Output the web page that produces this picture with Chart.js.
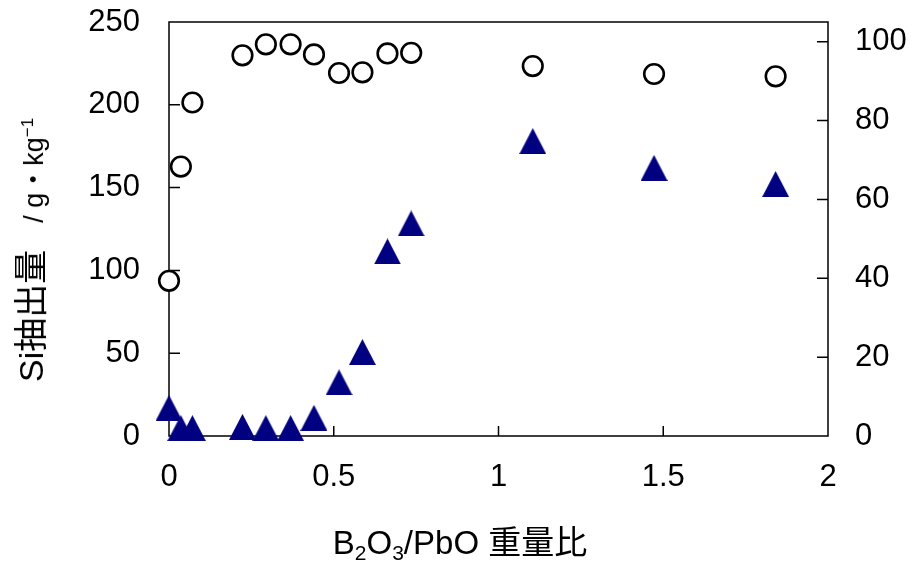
<!DOCTYPE html>
<html>
<head>
<meta charset="utf-8">
<script src="https://cdn.jsdelivr.net/npm/chart.js@4"></script>
<style>
    body { margin: 0; background: #fff; }
    .wrap { position: relative; width: 913px; height: 565px; }
    .ytitle {
        position: absolute; left: 31px; top: 250px;
        transform: translate(-50%, -50%) rotate(-90deg);
        white-space: nowrap; font-family: 'Liberation Sans', 'Noto Sans CJK JP', sans-serif;
        color: #000; line-height: 1;
    }
    .ytitle .main { font-size: 34px; }
    .ytitle .unit { font-size: 27px; }
    .ytitle sup { font-size: 17px; }
    .xtitle {
        position: absolute; left: 460px; top: 526px;
        transform: translateX(-50%);
        white-space: nowrap; font-family: 'Liberation Sans', 'Noto Sans CJK JP', sans-serif;
        font-size: 33px; color: #000; line-height: 1;
    }
    .xtitle sub { font-size: 21px; vertical-align: -6px; }
</style>
</head>
<body>
<div class="wrap">
    <canvas id="chart" width="913" height="565"></canvas>
    <div class="ytitle"><span class="main">Si抽出量</span><span class="unit">　/ g・kg<sup>−1</sup></span></div>
    <div class="xtitle">B<sub>2</sub>O<sub>3</sub>/PbO 重量比</div>
</div>
<script>
// B2O3/PbO weight ratio
const ratios = [0, 0.036, 0.071, 0.223, 0.294, 0.369, 0.44, 0.516, 0.587, 0.663, 0.735, 1.104, 1.472, 1.841];
// open circles, left axis (g/kg)
const circleValues = [93.7, 162.7, 201.4, 229.9, 236.5, 236.5, 230.4, 219.2, 219.6, 231, 231.4, 223.4, 218.6, 217.2];
// filled triangles, right axis
const triangleValues = [7.1, 2.0, 2.0, 2.3, 2.0, 2.0, 4.6, 13.6, 21.3, 46.8, 53.9, 74.8, 68.0, 63.9];

const xTicks = [0, 0.5, 1, 1.5, 2];
const leftTicks = [0, 50, 100, 150, 200, 250];
const rightTicks = [0, 20, 40, 60, 80, 100];

const FONT = "'Liberation Sans', 'Noto Sans CJK JP', sans-serif";

// triangle marker, centred on its box
function makeTriangle(w, h, color) {
    const c = document.createElement('canvas');
    c.width = w;
    c.height = h;
    const g = c.getContext('2d');
    g.fillStyle = color;
    g.beginPath();
    g.moveTo(w / 2, 0);
    g.lineTo(w, h);
    g.lineTo(0, h);
    g.closePath();
    g.fill();
    return c;
}

// plot frame and inward tick marks
const framePlugin = {
    id: 'frame',
    beforeDatasetsDraw(chart) {
        const { ctx, chartArea: a, scales } = chart;
        ctx.save();
        ctx.strokeStyle = '#000';
        ctx.lineWidth = 1.5;
        ctx.strokeRect(a.left, a.top, a.right - a.left, a.bottom - a.top);
        ctx.beginPath();
        leftTicks.slice(1, -1).forEach(v => {
            const y = scales.y.getPixelForValue(v);
            ctx.moveTo(a.left, y);
            ctx.lineTo(a.left + 11, y);
        });
        rightTicks.slice(1).forEach(v => {
            const y = scales.y1.getPixelForValue(v);
            ctx.moveTo(a.right, y);
            ctx.lineTo(a.right - 11, y);
        });
        xTicks.slice(1, -1).forEach(v => {
            const x = scales.x.getPixelForValue(v);
            ctx.moveTo(x, a.bottom);
            ctx.lineTo(x, a.bottom - 10);
        });
        ctx.stroke();
        ctx.restore();
    }
};

const fitY = w => s => {
    s.width = w;
    s.paddingTop = 0;
    s.paddingBottom = 0;
};

new Chart(document.getElementById('chart'), {
    type: 'scatter',
    data: {
        datasets: [
            {
                label: 'Si',
                data: ratios.map((r, i) => ({ x: r, y: circleValues[i] })),
                yAxisID: 'y',
                pointStyle: 'circle',
                pointRadius: 9.8,
                pointBorderWidth: 2.6,
                borderColor: '#000',
                backgroundColor: '#fff',
                clip: false
            },
            {
                label: 'triangle',
                data: ratios.map((r, i) => ({ x: r, y: triangleValues[i] })),
                yAxisID: 'y1',
                pointStyle: makeTriangle(27, 26, '#000080'),
                pointRadius: 13,
                clip: false
            }
        ]
    },
    options: {
        responsive: false,
        animation: false,
        devicePixelRatio: 1,
        layout: { padding: { top: 22, left: 0, right: 0, bottom: 0 } },
        plugins: {
            legend: { display: false },
            tooltip: { enabled: false }
        },
        scales: {
            x: {
                type: 'linear',
                min: 0,
                max: 2,
                grid: { display: false, drawTicks: false },
                border: { display: false },
                afterBuildTicks: s => { s.ticks = xTicks.map(v => ({ value: v })); },
                afterFit: s => { s.height = 129; s.paddingLeft = 0; s.paddingRight = 0; },
                ticks: {
                    color: '#000',
                    font: { family: FONT, size: 31 },
                    padding: 23,
                    maxRotation: 0,
                    callback: v => String(v)
                }
            },
            y: {
                position: 'left',
                min: 0,
                max: 250,
                grid: { display: false, drawTicks: false },
                border: { display: false },
                afterBuildTicks: s => { s.ticks = leftTicks.map(v => ({ value: v })); },
                afterFit: fitY(169),
                ticks: {
                    color: '#000',
                    font: { family: FONT, size: 31 },
                    padding: 29
                }
            },
            y1: {
                position: 'right',
                min: 0,
                max: 105,
                grid: { display: false, drawTicks: false },
                border: { display: false },
                afterBuildTicks: s => { s.ticks = rightTicks.map(v => ({ value: v })); },
                afterFit: fitY(85),
                ticks: {
                    color: '#000',
                    font: { family: FONT, size: 31 },
                    padding: 27
                }
            }
        }
    },
    plugins: [framePlugin]
});
</script>
</body>
</html>
